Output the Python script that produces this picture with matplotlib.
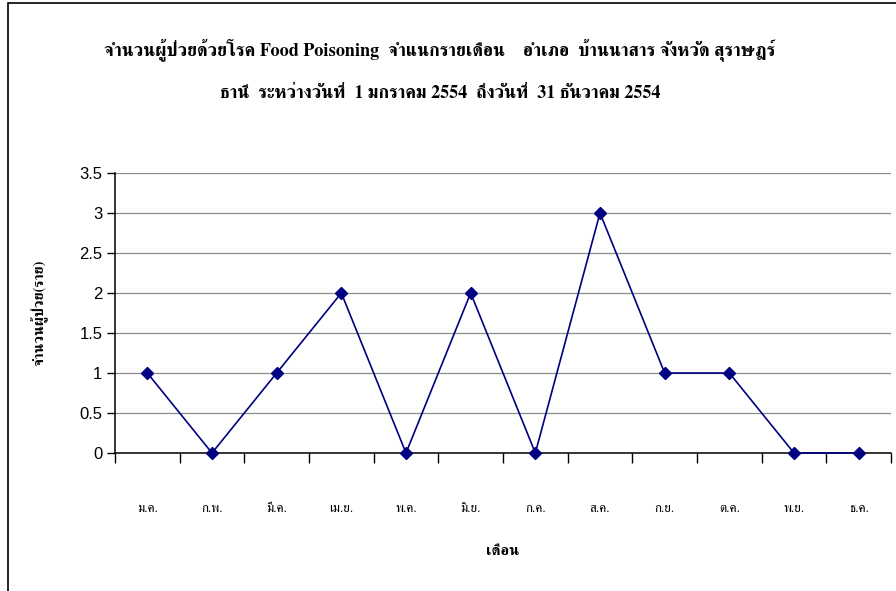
import matplotlib
matplotlib.use('Agg')
import matplotlib.pyplot as plt
from matplotlib.patches import Rectangle
import numpy as np

months = ['ม.ค.', 'ก.พ.', 'มี.ค.', 'เม.ย.', 'พ.ค.', 'มิ.ย.', 'ก.ค.', 'ส.ค.', 'ก.ย.', 'ต.ค.', 'พ.ย.', 'ธ.ค.']
patients = [1, 0, 1, 2, 0, 2, 0, 3, 1, 1, 0, 0]
y_ticks = [0, 0.5, 1, 1.5, 2, 2.5, 3, 3.5]
y_tick_labels = ['0', '0.5', '1', '1.5', '2', '2.5', '3', '3.5']

title_1 = 'จำนวนผู้ป่วยด้วยโรค Food Poisoning  จำแนกรายเดือน    อำเภอ  บ้านนาสาร จังหวัด สุราษฎร์'
title_2 = 'ธานี  ระหว่างวันที่  1 มกราคม 2554  ถึงวันที่  31 ธันวาคม 2554'

serif = ['FreeSerif', 'Liberation Serif', 'DejaVu Sans']
sans = ['Liberation Sans', 'DejaVu Sans']

fig = plt.figure(figsize=(8.96, 5.91), dpi=100)
ax = fig.add_axes([115 / 896, 138 / 591, 776 / 896, 280 / 591])

# chart border (cut off at right/bottom as in the source)
fig.patches.append(Rectangle((8 / 896, -0.1), 1.2, (591 - 3) / 591 + 0.1,
                             transform=fig.transFigure, fill=False,
                             edgecolor='black', linewidth=1.2))

x = np.arange(len(months)) + 0.5
ax.plot(x, patients, color='#000080', linewidth=1.2, marker='D',
        markersize=6, markerfacecolor='#000080', markeredgecolor='#000080',
        clip_on=False, zorder=3)

ax.set_xlim(0, len(months))
ax.set_ylim(0, 3.5)
ax.set_xticks(np.arange(len(months) + 1))
ax.set_xticklabels([])
ax.set_xticks(x, minor=True)
ax.set_xticklabels(months, minor=True, family=serif, fontsize=9.5)
ax.tick_params(axis='x', which='major', direction='out', length=7, width=1)
ax.tick_params(axis='x', which='minor', length=0, pad=36)

ax.set_yticks(y_ticks)
ax.set_yticklabels(y_tick_labels, family=sans, fontsize=12)
ax.tick_params(axis='y', direction='out', length=6, width=1, pad=3)

ax.grid(axis='y', color='#8c8c8c', linewidth=0.9)
ax.set_axisbelow(True)
for side in ['top', 'right']:
    ax.spines[side].set_visible(False)
for side in ['left', 'bottom']:
    ax.spines[side].set_linewidth(1.1)

ax.set_xlabel('เดือน', family=serif, fontsize=11, fontweight='bold', labelpad=22)
ax.set_ylabel('จำนวนผู้ป่วย(ราย)', family=serif, fontsize=10.5, fontweight='bold', labelpad=22)

fig.text(440 / 896, 1 - 50 / 591, title_1, family=serif, fontsize=13,
         fontweight='bold', ha='center', va='center')
fig.text(440 / 896, 1 - 94 / 591, title_2, family=serif, fontsize=13,
         fontweight='bold', ha='center', va='center')

fig.savefig('out.png', dpi=100)
